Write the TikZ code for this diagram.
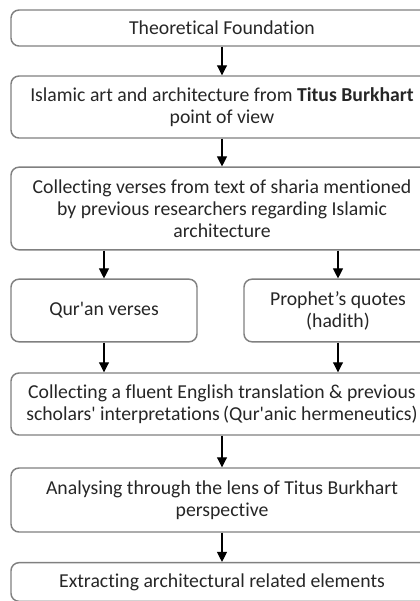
\documentclass[tikz,border=0pt]{standalone}
\usepackage{fontspec}
\setmainfont{Carlito}[Ligatures=NoCommon]
\usetikzlibrary{arrows.meta}

\tikzset{every picture/.style={line width=0.75pt}}
\tikzset{
  stepbox/.style={draw=black!50, line width=1.1pt, rounded corners=6pt, align=center,
    text=black!85, font=\fontsize{14.8}{16.5}\selectfont, inner sep=0pt},
  flow/.style={-{Triangle[length=7.5pt,width=7.5pt]}, black, line width=0.8pt}
}

\begin{document}
\begin{tikzpicture}[x=0.75pt,y=0.75pt,yscale=-1,xscale=1]
	\useasboundingbox (0,0) rectangle (420,601);
	\clip (0,0) rectangle (420,601);
	
	%Shape: Rounded Rect [id:theory] 
	\node [stepbox, minimum width=316.5pt, minimum height=27pt] (theory) at (222,28) {Theoretical Foundation};
	%Shape: Rounded Rect [id:burkhart] 
	\node [stepbox, minimum width=316.5pt, minimum height=46.5pt] (burkhart) at (222,107) {Islamic art and architecture from \textbf{Titus Burkhart}\\point of view};
	%Shape: Rounded Rect [id:verses] 
	\node [stepbox, minimum width=316.5pt, minimum height=62pt] (verses) at (222,208.5) {Collecting verses from text of sharia mentioned\\by previous researchers regarding Islamic\\architecture};
	%Shape: Rounded Rect [id:quran] 
	\node [stepbox, minimum width=139.5pt, minimum height=47pt] (quran) at (104,310.5) {Qur\textquotesingle an verses};
	%Shape: Rounded Rect [id:hadith] 
	\node [stepbox, minimum width=141pt, minimum height=47pt] (hadith) at (338,310.5) {Prophet’s quotes\\(hadith)};
	%Shape: Rounded Rect [id:translation] 
	\node [stepbox, minimum width=316.5pt, minimum height=46.5pt] (translation) at (222,404) {Collecting a fluent English translation \& previous\\scholars\textquotesingle\ interpretations\,(Qur\textquotesingle anic hermeneutics)};
	%Shape: Rounded Rect [id:lens] 
	\node [stepbox, minimum width=316.5pt, minimum height=48pt] (lens) at (222,500) {Analysing through the lens of Titus Burkhart\\perspective};
	%Shape: Rounded Rect [id:extract] 
	\node [stepbox, minimum width=316.5pt, minimum height=29pt] (extract) at (222,582) {Extracting architectural related elements};
	
	%Straight Lines [id:a1] 
	\draw [flow] (theory) -- (burkhart) ;
	%Straight Lines [id:a2] 
	\draw [flow] (burkhart) -- (verses) ;
	%Straight Lines [id:a3] 
	\draw [flow] (verses.south -| quran.north) -- (quran.north) ;
	%Straight Lines [id:a4] 
	\draw [flow] (verses.south -| hadith.north) -- (hadith.north) ;
	%Straight Lines [id:a5] 
	\draw [flow] (quran.south) -- (translation.north -| quran.south) ;
	%Straight Lines [id:a6] 
	\draw [flow] (hadith.south) -- (translation.north -| hadith.south) ;
	%Straight Lines [id:a7] 
	\draw [flow] (translation) -- (lens) ;
	%Straight Lines [id:a8] 
	\draw [flow] (lens) -- (extract) ;
	
\end{tikzpicture}
\end{document}
